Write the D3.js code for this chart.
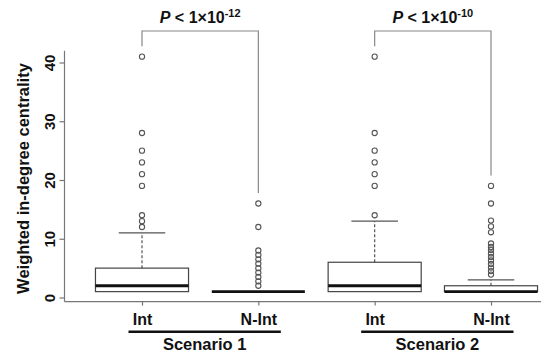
<!DOCTYPE html>
<html>
<head>
<meta charset="utf-8">
<script src="https://cdn.jsdelivr.net/npm/d3@7"></script>
<style>
  body { margin: 0; background: #fff; }
  text { font-family: "Liberation Sans", Arial, sans-serif; font-weight: bold; fill: #111; }
</style>
</head>
<body>
<div id="chart"></div>
<script>
(function() {
  var width = 541, height = 354;

  // data
  var groups = ["Int1", "NInt1", "Int2", "NInt2"];
  var categories = ["Int", "N-Int", "Int", "N-Int"];
  var scenarios = ["Scenario 1", "Scenario 2"];
  var pExponents = ["-12", "-10"];
  var whiskerLow = [1, 1, 1, 1];
  var q1 = [1, 1, 1, 1];
  var median = [2, 1, 2, 1];
  var q3 = [5, 1, 6, 2];
  var whiskerHigh = [11, 1, 13, 3];
  var outliers = [
    [12, 13, 14, 19, 21, 23, 25, 28, 41],
    [2, 2.75, 3.5, 4.25, 5, 5.75, 6.5, 7.25, 8, 12, 16],
    [14, 19, 21, 23, 25, 28, 41],
    [3.9, 4.5, 5.1, 5.7, 6.3, 6.9, 7.5, 8.1, 8.6, 9.2, 11.1, 12.1, 13.1, 16, 19]
  ];
  var yTicks = [0, 10, 20, 30, 40];

  var svg = d3.select("#chart")
    .append("svg")
    .attr("width", width)
    .attr("height", height);

  var xPositionScale = d3.scalePoint().domain(groups).range([142, 491]);
  var yPositionScale = d3.scaleLinear().domain([0, 40]).range([297.5, 62.5]);
  var boxWidth = xPositionScale.step() * 0.8;
  var axisX = 64.5, axisY = yPositionScale(-0.7);

  // L shaped frame
  svg.append("line")
    .attr("x1", axisX).attr("x2", axisX)
    .attr("y1", yPositionScale(42)).attr("y2", axisY)
    .attr("stroke", "#777").attr("stroke-width", 1.2);
  svg.append("line")
    .attr("x1", axisX).attr("x2", width)
    .attr("y1", axisY).attr("y2", axisY)
    .attr("stroke", "#777").attr("stroke-width", 1.2);

  // y axis
  var yAxis = d3.axisLeft(yPositionScale).tickValues(yTicks).tickSize(5);
  var yg = svg.append("g")
    .attr("transform", "translate(" + axisX + ",0)")
    .call(yAxis);
  yg.select(".domain").remove();
  yg.selectAll(".tick line").attr("stroke", "#777").attr("stroke-width", 1.2);
  yg.selectAll(".tick text")
    .attr("x", null).attr("dy", null)
    .attr("text-anchor", "middle")
    .attr("transform", "translate(-9.5,0) rotate(-90)")
    .style("font-size", "15px")
    .style("font-family", "'Liberation Sans', Arial, sans-serif")
    .style("font-weight", "bold")
    .attr("fill", "#111");

  svg.append("text")
    .attr("transform", "translate(28.5,178.5) rotate(-90)")
    .attr("text-anchor", "middle")
    .style("font-size", "16.5px")
    .text("Weighted in-degree centrality");

  // x axis
  var xAxis = d3.axisBottom(xPositionScale).tickSize(4).tickFormat(function(d, i) { return categories[i]; });
  var xg = svg.append("g")
    .attr("transform", "translate(0," + axisY + ")")
    .call(xAxis);
  xg.select(".domain").remove();
  xg.selectAll(".tick line").attr("stroke", "#777").attr("stroke-width", 1.2);
  xg.selectAll(".tick text")
    .attr("y", 23.5).attr("dy", null)
    .style("font-size", "16px")
    .style("font-family", "'Liberation Sans', Arial, sans-serif")
    .style("font-weight", "bold")
    .attr("fill", "#111");

  // scenario underlines
  scenarios.forEach(function(s, i) {
    var left = xPositionScale(groups[i * 2]) - 13.5;
    var right = xPositionScale(groups[i * 2 + 1]) + 22.5;
    svg.append("line")
      .attr("x1", left).attr("x2", right)
      .attr("y1", 331.7).attr("y2", 331.7)
      .attr("stroke", "#111").attr("stroke-width", 2.6);
    svg.append("text")
      .attr("x", (left + right) / 2).attr("y", 350)
      .attr("text-anchor", "middle")
      .style("font-size", "16.5px")
      .text(s);
  });

  // boxes
  groups.forEach(function(g, i) {
    var cx = xPositionScale(g);
    var b = svg.append("g");
    // whisker
    if (whiskerHigh[i] > q3[i]) {
      b.append("line")
        .attr("x1", cx).attr("x2", cx)
        .attr("y1", yPositionScale(q3[i])).attr("y2", yPositionScale(whiskerHigh[i]))
        .attr("stroke", "#555").attr("stroke-width", 1.2)
        .attr("stroke-dasharray", "3,2");
    }
    b.append("line")
      .attr("x1", cx - boxWidth / 4).attr("x2", cx + boxWidth / 4)
      .attr("y1", yPositionScale(whiskerHigh[i])).attr("y2", yPositionScale(whiskerHigh[i]))
      .attr("stroke", "#555").attr("stroke-width", 1.2);
    b.append("rect")
      .attr("x", cx - boxWidth / 2)
      .attr("width", boxWidth)
      .attr("y", yPositionScale(q3[i]))
      .attr("height", yPositionScale(q1[i]) - yPositionScale(q3[i]))
      .attr("fill", "none")
      .attr("stroke", "#444").attr("stroke-width", 1.2);
    b.append("line")
      .attr("x1", cx - boxWidth / 2).attr("x2", cx + boxWidth / 2)
      .attr("y1", yPositionScale(median[i])).attr("y2", yPositionScale(median[i]))
      .attr("stroke", "#111").attr("stroke-width", 2.8);
    b.selectAll("circle")
      .data(outliers[i])
      .enter().append("circle")
      .attr("cx", cx)
      .attr("cy", function(d) { return yPositionScale(d); })
      .attr("r", 2.6)
      .attr("fill", "none")
      .attr("stroke", "#555")
      .attr("stroke-width", 1.1);
  });

  // significance brackets
  scenarios.forEach(function(s, i) {
    var a = groups[i * 2], c = groups[i * 2 + 1];
    var xa = xPositionScale(a), xc = xPositionScale(c);
    var topA = yPositionScale(d3.max(outliers[i * 2])) - 10.5;
    var topC = yPositionScale(d3.max(outliers[i * 2 + 1])) - 10.5;
    svg.append("path")
      .attr("d", "M" + xa + "," + topA + "V31H" + xc + "V" + topC)
      .attr("fill", "none")
      .attr("stroke", "#888").attr("stroke-width", 1.2);
    var t = svg.append("text")
      .attr("x", (xa + xc) / 2).attr("y", 23.3)
      .attr("text-anchor", "middle")
      .style("font-size", "16px");
    t.append("tspan").style("font-style", "italic").text("P");
    t.append("tspan").text(" < 1×10");
    t.append("tspan").attr("dy", -6).style("font-size", "11px").text(pExponents[i]);
  });
})();
</script>
</body>
</html>
